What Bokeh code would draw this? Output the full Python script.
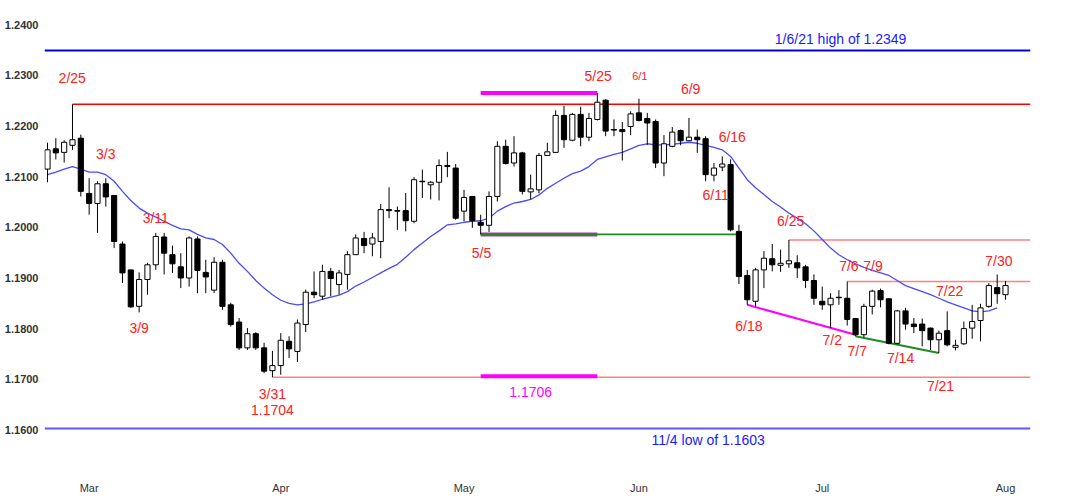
from bokeh.plotting import figure
from bokeh.models import ColumnDataSource, Range1d, FixedTicker, PrintfTickFormatter
from bokeh.core.properties import value
from bokeh.embed import file_html
from bokeh.resources import INLINE

# ---------------- data ----------------
dates = ["2/22","2/23","2/24","2/25","2/26",
         "3/1","3/2","3/3","3/4","3/5","3/8","3/9","3/10","3/11","3/12","3/15","3/16","3/17","3/18","3/19",
         "3/22","3/23","3/24","3/25","3/26","3/29","3/30","3/31",
         "4/1","4/2","4/5","4/6","4/7","4/8","4/9","4/12","4/13","4/14","4/15","4/16","4/19","4/20","4/21",
         "4/22","4/23","4/26","4/27","4/28","4/29","4/30",
         "5/3","5/4","5/5","5/6","5/7","5/10","5/11","5/12","5/13","5/14","5/17","5/18","5/19","5/20","5/21",
         "5/24","5/25","5/26","5/27","5/28","5/31",
         "6/1","6/2","6/3","6/4","6/7","6/8","6/9","6/10","6/11","6/14","6/15","6/16","6/17","6/18","6/21",
         "6/22","6/23","6/24","6/25","6/28","6/29","6/30",
         "7/1","7/2","7/5","7/6","7/7","7/8","7/9","7/12","7/13","7/14","7/15","7/16","7/19","7/20","7/21",
         "7/22","7/23","7/26","7/27","7/28","7/29","7/30","8/2"]

opens = [1.2115,1.2155,1.2148,1.2162,1.2176,
         1.2067,1.2047,1.2086,1.2063,1.1967,1.1916,1.1844,1.1897,1.1926,1.1981,1.1946,1.1922,1.1900,1.1977,1.1911,
         1.1876,1.1931,1.1847,1.1813,1.1762,1.1790,1.1762,1.1717,
         1.1727,1.1775,1.1755,1.1808,1.1872,1.1864,1.1913,1.1887,1.1907,1.1946,1.1978,1.1967,1.1972,1.2035,1.2033,
         1.2033,1.2012,1.2091,1.2084,1.2089,1.2122,1.2117,
         1.2032,1.2061,1.2010,1.2004,1.2061,1.2160,1.2127,1.2147,1.2070,1.2074,1.2142,1.2148,1.2221,1.2172,1.2223,
         1.2178,1.2213,1.2251,1.2193,1.2193,1.2199,
         1.2226,1.2215,1.2209,1.2127,1.2160,1.2191,1.2171,1.2178,1.2175,1.2103,1.2119,1.2124,1.1992,1.1905,1.1854,
         1.1916,1.1938,1.1925,1.1928,1.1930,1.1922,1.1895,
         1.1854,1.1847,1.1862,1.1860,1.1820,1.1788,1.1844,1.1875,1.1859,1.1771,1.1835,1.1809,1.1809,1.1801,1.1778,
         1.1796,1.1763,1.1770,1.1801,1.1816,1.1844,1.1881,1.1867]

highs = [1.2167,1.2176,1.2172,1.2243,1.2183,
         1.2097,1.2091,1.2097,1.2063,1.1972,1.1916,1.1911,1.1930,1.1989,1.1989,1.1964,1.1949,1.1982,1.1982,1.1936,
         1.1941,1.1936,1.1851,1.1821,1.1801,1.1793,1.1772,1.1756,
         1.1791,1.1785,1.1818,1.1877,1.1913,1.1926,1.1920,1.1916,1.1953,1.1986,1.1991,1.1989,1.2046,1.2079,1.2041,
         1.2068,1.2099,1.2114,1.2091,1.2134,1.2149,1.2125,
         1.2074,1.2061,1.2025,1.2071,1.2170,1.2173,1.2180,1.2149,1.2104,1.2147,1.2167,1.2231,1.2240,1.2226,1.2238,
         1.2226,1.2265,1.2253,1.2213,1.2208,1.2229,
         1.2254,1.2226,1.2213,1.2182,1.2198,1.2193,1.2216,1.2193,1.2180,1.2127,1.2140,1.2134,1.2005,1.1916,1.1920,
         1.1953,1.1967,1.1956,1.1975,1.1945,1.1926,1.1907,
         1.1883,1.1870,1.1876,1.1893,1.1821,1.1849,1.1877,1.1879,1.1859,1.1837,1.1841,1.1821,1.1820,1.1802,1.1796,
         1.1834,1.1778,1.1814,1.1847,1.1849,1.1890,1.1907,1.1894]

lows = [1.2089,1.2134,1.2128,1.2153,1.2061,
        1.2025,1.1989,1.2041,1.1959,1.1890,1.1841,1.1832,1.1867,1.1916,1.1907,1.1910,1.1880,1.1883,1.1870,1.1870,
        1.1870,1.1837,1.1804,1.1758,1.1758,1.1758,1.1712,1.1704,
        1.1709,1.1742,1.1734,1.1793,1.1860,1.1857,1.1864,1.1867,1.1877,1.1946,1.1949,1.1943,1.1939,1.2018,1.1995,
        1.1992,1.2008,1.2058,1.2055,1.2053,1.2099,1.2015,
        1.2012,1.1999,1.1986,1.1991,1.2051,1.2124,1.2120,1.2065,1.2055,1.2067,1.2142,1.2147,1.2157,1.2170,1.2160,
        1.2170,1.2211,1.2180,1.2180,1.2132,1.2182,
        1.2209,1.2163,1.2117,1.2101,1.2158,1.2162,1.2170,1.2147,1.2091,1.2091,1.2111,1.1992,1.1888,1.1847,1.1844,
        1.1880,1.1913,1.1912,1.1920,1.1900,1.1880,1.1847,
        1.1837,1.1801,1.1847,1.1806,1.1785,1.1783,1.1828,1.1842,1.1769,1.1769,1.1798,1.1791,1.1765,1.1758,1.1752,
        1.1765,1.1757,1.1768,1.1780,1.1775,1.1841,1.1849,1.1857]

closes = [1.2153,1.2147,1.2168,1.2173,1.2071,
          1.2047,1.2086,1.2060,1.1972,1.1910,1.1843,1.1897,1.1926,1.1982,1.1949,1.1928,1.1900,1.1979,1.1915,1.1902,
          1.1931,1.1844,1.1808,1.1762,1.1790,1.1762,1.1716,1.1727,
          1.1777,1.1760,1.1811,1.1872,1.1867,1.1913,1.1899,1.1910,1.1946,1.1979,1.1964,1.1979,1.2035,1.2033,1.2032,
          1.2013,1.2094,1.2090,1.2089,1.2122,1.2120,1.2018,
          1.2059,1.2013,1.2004,1.2061,1.2160,1.2126,1.2147,1.2071,1.2076,1.2142,1.2149,1.2221,1.2173,1.2223,1.2178,
          1.2215,1.2247,1.2190,1.2192,1.2189,1.2224,
          1.2211,1.2206,1.2127,1.2165,1.2188,1.2171,1.2178,1.2173,1.2104,1.2117,1.2125,1.1995,1.1903,1.1857,1.1916,
          1.1939,1.1926,1.1929,1.1934,1.1920,1.1895,1.1860,
          1.1847,1.1860,1.1861,1.1818,1.1788,1.1844,1.1874,1.1857,1.1771,1.1835,1.1809,1.1804,1.1796,1.1778,1.1791,
          1.1768,1.1767,1.1800,1.1814,1.1841,1.1885,1.1869,1.1885]

# moving average as drawn (ends on 7/30)
moving_avg = [1.2104,1.2109,1.2115,1.2120,1.2115,1.2109,1.2109,1.2104,1.2091,1.2071,1.2053,1.2038,1.2028,1.2020,
              1.2012,1.2004,1.1997,1.1995,1.1986,1.1979,1.1976,1.1966,1.1949,1.1929,1.1913,1.1895,1.1880,1.1867,
              1.1856,1.1850,1.1847,1.1849,1.1853,1.1858,1.1862,1.1866,1.1873,1.1884,1.1892,1.1901,1.1910,1.1919,
              1.1927,1.1941,1.1956,1.1969,1.1982,1.1993,1.2005,1.2007,1.2010,1.2012,1.2013,1.2018,1.2032,1.2041,
              1.2048,1.2051,1.2055,1.2064,1.2077,1.2087,1.2097,1.2106,1.2111,1.2120,1.2134,1.2139,1.2144,1.2148,
              1.2155,1.2162,1.2165,1.2163,1.2163,1.2164,1.2166,1.2168,1.2166,1.2162,1.2158,1.2153,1.2140,1.2117,
              1.2094,1.2078,1.2065,1.2051,1.2040,1.2028,1.2018,1.2007,1.1993,1.1976,1.1959,1.1946,1.1936,1.1928,
              1.1921,1.1915,1.1910,1.1905,1.1895,1.1885,1.1879,1.1873,1.1867,1.1860,1.1853,1.1847,1.1841,1.1835,
              1.1833,1.1835,1.1841]

month_starts = ["3/1", "4/1", "5/3", "6/1", "7/1", "8/2"]
month_names = ["Mar", "Apr", "May", "Jun", "Jul", "Aug"]
price_ticks = [1.16, 1.17, 1.18, 1.19, 1.20, 1.21, 1.22, 1.23, 1.24]

high_0106 = 1.2349
low_1104 = 1.1603

# ---------------- figure ----------------
n = len(dates)
idx = list(range(n))
x_start = -0.36
x_end = 118.0

p = figure(width=1081, height=500, output_backend="svg", toolbar_location=None,
           x_range=Range1d(x_start, x_end), y_range=Range1d(1.1510, 1.2438),
           min_border_left=44, min_border_right=51, min_border_top=5, min_border_bottom=25)
p.outline_line_color = None
p.xgrid.visible = False
p.ygrid.visible = False
p.background_fill_color = "white"
p.border_fill_color = "white"

src = ColumnDataSource(dict(
    x=idx, high=highs, low=lows,
    top=[max(o, c) for o, c in zip(opens, closes)],
    bottom=[min(o, c) for o, c in zip(opens, closes)],
    fill=["black" if c < o else "white" for o, c in zip(opens, closes)],
))

# horizontal reference lines (behind candles)
p.line([x_start, x_end], [high_0106, high_0106], line_color="#0000E6", line_width=2)
p.line([x_start, x_end], [low_1104, low_1104], line_color="#5A5AFF", line_width=2)

i_225 = dates.index("2/25")
i_331 = dates.index("3/31")
i_505 = dates.index("5/5")
i_525 = dates.index("5/25")
i_617 = dates.index("6/17")
i_618 = dates.index("6/18")
i_625 = dates.index("6/25")
i_706 = dates.index("7/6")
i_707 = dates.index("7/7")
i_721 = dates.index("7/21")

p.line([i_225, x_end], [highs[i_225]] * 2, line_color="#FF0000", line_width=1.5)
p.line([i_331, x_end], [lows[i_331]] * 2, line_color="#FF8080", line_width=1.5)
p.line([i_625, x_end], [highs[i_625]] * 2, line_color="#FF8080", line_width=1.5)
p.line([i_706, x_end], [highs[i_706]] * 2, line_color="#FF8080", line_width=1.5)

p.line([i_505, i_525], [highs[i_525]] * 2, line_color="#FF00FF", line_width=4)
p.line([i_505, i_525], [1.1706] * 2, line_color="#FF00FF", line_width=4)
p.line([i_505, i_525], [lows[i_505]] * 2, line_color="#B030B0", line_width=4)
p.line([i_505, i_617], [lows[i_505]] * 2, line_color="#1E8C1E", line_width=1.6)

p.line([i_618, i_707], [lows[i_618], 1.1788], line_color="#FF00FF", line_width=2)
p.line([i_707, i_721], [lows[i_707], lows[i_721]], line_color="#1E8C1E", line_width=2)

# moving average
p.line(idx[:len(moving_avg)], moving_avg, line_color="#4A4AFF", line_width=1.3)

# candles
p.segment(x0="x", y0="low", x1="x", y1="high", source=src, line_color="black", line_width=1)
p.vbar(x="x", width=0.62, top="top", bottom="bottom", source=src,
       fill_color="fill", line_color="black", line_width=1)

# labels
red = "#FF2020"
lab_text = ["2/25", "3/3", "3/11", "3/9", "3/31", "1.1704", "5/5", "5/25", "6/9", "6/16", "6/11",
            "6/25", "6/18", "7/2", "7/6", "7/9", "7/7", "7/14", "7/22", "7/30", "7/21"]
lab_x = [2.97, 6.99, 13.0, 11.0, 27.0, 27.0, 52.1, 66.1, 77.2, 82.2, 80.2,
         89.2, 84.2, 94.2, 96.2, 99.1, 97.2, 102.4, 108.3, 114.2, 107.2]
lab_y = [1.2294, 1.2145, 1.2018, 1.1801, 1.1671, 1.1639, 1.1949, 1.2298, 1.2274, 1.2178, 1.2063,
         1.2013, 1.1806, 1.1778, 1.1924, 1.1924, 1.1756, 1.1742, 1.1875, 1.1933, 1.1686]
p.text(lab_x, lab_y, text=lab_text, text_color=red, text_font=value("Liberation Sans"),
       text_font_size="14px", text_align="center", text_baseline="middle")
p.text([71.1], [1.2298], text=["6/1"], text_color=red, text_font=value("Liberation Sans"),
       text_font_size="11px", text_align="center", text_baseline="middle")
p.text([58.0], [1.1674], text=["1.1706"], text_color="#FF00FF", text_font=value("Liberation Sans"),
       text_font_size="14px", text_align="center", text_baseline="middle")
p.text([95.2, 79.3], [1.2371, 1.1581],
       text=["1/6/21 high of %.4f" % high_0106, "11/4 low of %.4f" % low_1104],
       text_color="#1A1AFF", text_font=value("Liberation Sans"),
       text_font_size="14px", text_align="center", text_baseline="middle")

# axes
p.yaxis.ticker = FixedTicker(ticks=price_ticks)
p.yaxis.formatter = PrintfTickFormatter(format="%.4f")
p.yaxis.axis_line_color = None
p.yaxis.major_tick_line_color = None
p.yaxis.minor_tick_line_color = None
p.yaxis.major_tick_out = 0
p.yaxis.major_tick_in = 0
p.yaxis.minor_tick_out = 0
p.yaxis.minor_tick_in = 0
p.yaxis.major_label_standoff = 6
p.yaxis.major_label_text_font = "Liberation Sans"
p.yaxis.major_label_text_font_size = "11px"
p.yaxis.major_label_text_font_style = "bold"
p.yaxis.major_label_text_color = "#333333"

m_idx = [dates.index(d) for d in month_starts]
p.xaxis.ticker = FixedTicker(ticks=m_idx)
p.xaxis.major_label_overrides = {i: m for i, m in zip(m_idx, month_names)}
p.xaxis.axis_line_color = None
p.xaxis.major_tick_line_color = None
p.xaxis.minor_tick_line_color = None
p.xaxis.major_tick_out = 0
p.xaxis.major_tick_in = 0
p.xaxis.minor_tick_out = 0
p.xaxis.minor_tick_in = 0
p.xaxis.major_label_standoff = 6
p.xaxis.major_label_text_font = "Liberation Sans"
p.xaxis.major_label_text_font_size = "11px"
p.xaxis.major_label_text_color = "#333333"

open("out.html", "w").write(file_html(p, INLINE))
